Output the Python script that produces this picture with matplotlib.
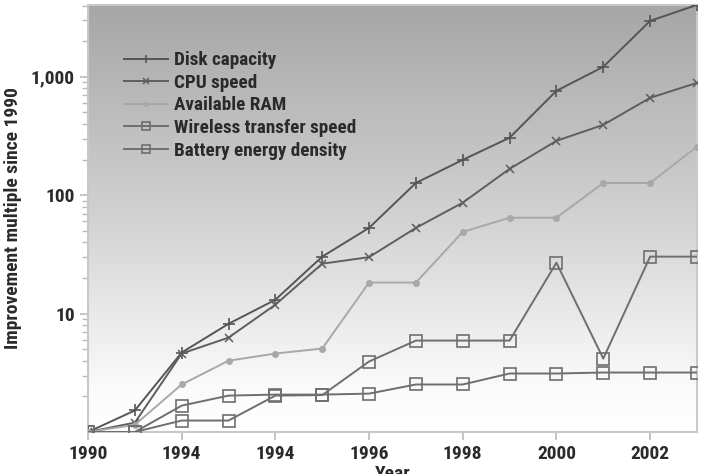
import numpy as np
import matplotlib
matplotlib.use("Agg")
import matplotlib.pyplot as plt
from matplotlib import font_manager
from matplotlib.colors import LinearSegmentedColormap
from matplotlib.ticker import FixedLocator, LogLocator, FuncFormatter, NullFormatter

# pick a condensed bold face if one is installed
font = 'Liberation Sans'
for name in ['Roboto Condensed', 'Liberation Sans Narrow', 'Open Sans Condensed']:
    try:
        font_manager.findfont(name, fallback_to_default=False)
        font = name
        break
    except ValueError:
        pass
plt.rcParams['font.family'] = [font, 'DejaVu Sans']
plt.rcParams['font.weight'] = 'bold'
narrow = font != 'Liberation Sans'

# data
years = list(range(1990, 2004))
disk = [1, 1.52, 4.69, 8.2, 13.1, 30.3, 53, 127, 199, 306, 762, 1214, 2970, 4050]
cpu = [1, 1.2, 4.6, 6.27, 11.9, 26.4, 30, 53, 86.5, 167, 288, 393, 665, 890]
ram = [1, 1.15, 2.52, 4.0, 4.6, 5.07, 18.3, 18.3, 49, 64.6, 64.6, 127, 127, 257]
wireless = [1, 1, 1.25, 1.25, 2.03, 2.05, 3.94, 5.92, 5.92, 5.92, 26.9, 4.17, 30.3, 30.3]
battery = [1, 1, 1.67, 2.03, 2.07, 2.07, 2.11, 2.52, 2.52, 3.12, 3.12, 3.18, 3.18, 3.18]

tick_years = [1990, 1992, 1994, 1996, 1998, 2000, 2002]
tick_labels = ['1990', '1994', '1994', '1996', '1998', '2000', '2002']

fs_tick = 14 if narrow else 11
fs_leg = 13.8 if narrow else 11

fig = plt.figure(figsize=(7.04, 4.74), dpi=100)
ax = fig.add_axes([0.125, 0.0886, 0.865, 0.901])

ax.set_yscale('log')
ax.set_xlim(1990, 2003)
ax.set_ylim(1, 4050)

# vertical gray gradient background, dark at top to white at bottom
cmap = LinearSegmentedColormap.from_list(
    'bg', [(0, '#a6a6a6'), (0.5, '#d2d2d2'), (0.9, '#fbfbfb'), (1, '#ffffff')])
grad = np.linspace(0, 1, 256).reshape(-1, 1)
ax.imshow(grad, cmap=cmap, aspect='auto', extent=[0, 1, 0, 1],
          transform=ax.transAxes, origin='upper', zorder=0)

ax.plot(years, disk, color='#555555', lw=1.4, marker='+', ms=8, mew=1.2,
        label='Disk capacity', zorder=3)
ax.plot(years, cpu, color='#5e5e5e', lw=1.4, marker='x', ms=6, mew=1.1,
        label='CPU speed', zorder=3)
ax.plot(years, ram, color='#a8a8a8', lw=1.4, marker='o', ms=4,
        label='Available RAM', zorder=3)
ax.plot(years, wireless, color='#6e6e6e', lw=1.4, marker='s', ms=9, mfc='none',
        mew=1.2, label='Wireless transfer speed', zorder=3)
ax.plot(years, battery, color='#6e6e6e', lw=1.4, marker='s', ms=9, mfc='none',
        mew=1.2, label='Battery energy density', zorder=3)

ax.xaxis.set_major_locator(FixedLocator(tick_years))
ax.set_xticklabels(tick_labels)
ax.yaxis.set_major_locator(FixedLocator([10, 100, 1000]))
ax.yaxis.set_major_formatter(FuncFormatter(lambda v, p: f'{int(v):,}'))
ax.yaxis.set_minor_locator(LogLocator(base=10, subs=np.arange(2, 10)))
ax.yaxis.set_minor_formatter(NullFormatter())

ax.tick_params(axis='both', which='major', labelsize=fs_tick, colors='#bbbbbb',
               labelcolor='#2a2a2a', length=6, width=1.2, direction='out')
ax.tick_params(axis='y', which='minor', colors='#bbbbbb', length=4, width=1)

for s in ax.spines.values():
    s.set_color('#c8c8c8')
    s.set_linewidth(1.5)

ax.set_ylabel('Improvement multiple since 1990', fontsize=fs_tick,
              fontweight='bold', color='#2a2a2a', labelpad=6)
ax.set_xlabel('Year', fontsize=fs_tick, fontweight='bold', color='#2a2a2a',
              labelpad=1)

leg = ax.legend(loc='upper left', bbox_to_anchor=(0.03, 0.932), frameon=False,
                fontsize=fs_leg, handlelength=2.3, labelspacing=0.24,
                handletextpad=0.35, markerscale=0.7)
for t in leg.get_texts():
    t.set_color('#2a2a2a')

fig.savefig('out.png', dpi=100)
